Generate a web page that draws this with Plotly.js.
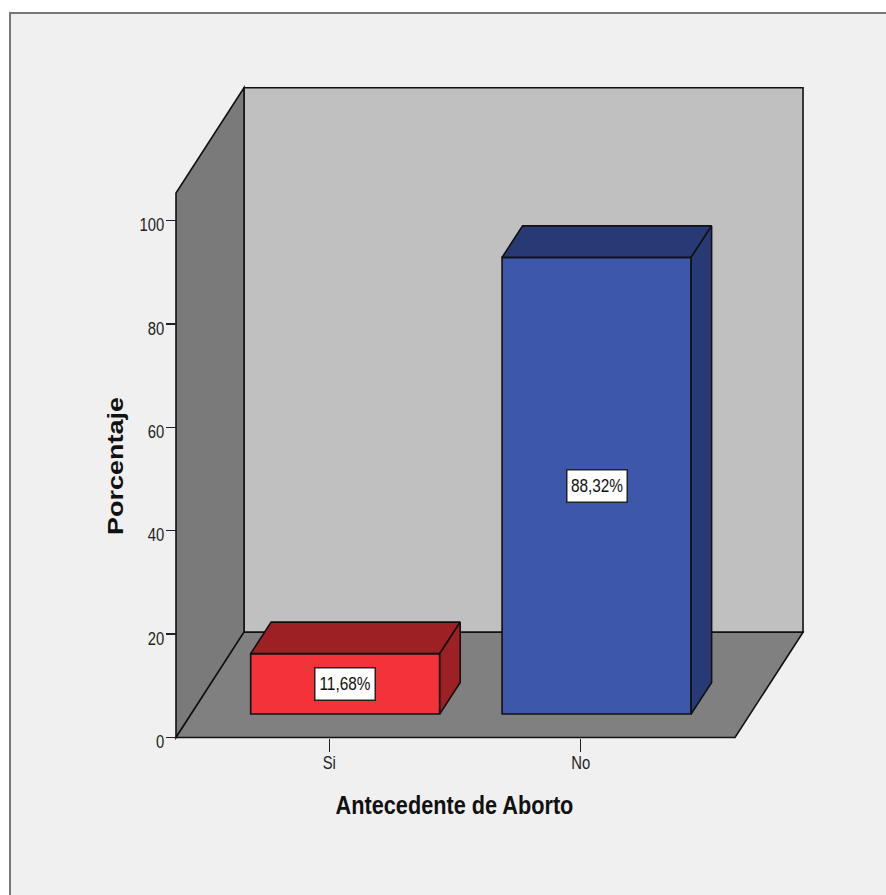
<!DOCTYPE html>
<html><head><meta charset="utf-8">
<script src="https://cdn.plot.ly/plotly-3.0.1.min.js"></script>
<style>
html,body{margin:0;padding:0;width:886px;height:895px;background:#fff;overflow:hidden}
#frame{position:absolute;left:9px;top:12px;width:877px;height:883px;box-sizing:border-box;background:#f0f0f0;border-left:2px solid #777;border-top:2px solid #777}
#chart{position:absolute;left:0;top:0;width:886px;height:895px}
</style></head><body>
<div id="frame"></div><div id="chart"></div>
<script>
// Data
var categories = ['Si', 'No'];
var percentages = [11.68, 88.32];
var barColors = ['#f33239', '#3d58aa'];
var barShadeColors = ['#9c2024', '#283a75'];
var yTicks = [0, 20, 40, 60, 80, 100];

// Pseudo-3D box, in axis units
var wallTop = 105.3, depthX = 0.2705, depthY = 20.37;
var floorLeft = -0.6098, floorRight = 1.6138;
var barBase = 4.55, barShift = 0.0632, barWidth = 0.752, barDepthX = 0.0815, barDepthY = 6.09;
var ink = '#111', inkW = 1.6;
var sans = '"Liberation Sans",Arial,sans-serif';

function poly(xs, ys){
  return 'M' + xs.map(function(x, i){ return x + ',' + ys[i]; }).join('L') + 'Z';
}
function wall(xs, ys, fill){
  return {type:'path', xref:'x', yref:'y', layer:'below', path:poly(xs, ys), fillcolor:fill, line:{color:ink, width:inkW}};
}
var xB = floorLeft + depthX, xR = floorRight + depthX;
var shapes = [
  wall([xB, xR, xR, xB], [depthY, depthY, wallTop + depthY, wallTop + depthY], '#c0c0c0'),
  wall([floorLeft, xB, xB, floorLeft], [0, depthY, wallTop + depthY, wallTop], '#7a7a7a'),
  wall([floorLeft, floorRight, xR, xB], [0, 0, depthY, depthY], '#808080')
];

var xFront = categories.map(function(c, i){ return i + barShift; });
var traces = [{
  type:'bar', x:xFront, y:percentages, base:percentages.map(function(){ return barBase; }),
  width:barWidth, marker:{color:barColors, line:{color:ink, width:inkW}}, hoverinfo:'skip', showlegend:false
}];
categories.forEach(function(c, i){
  var l = xFront[i] - barWidth/2, r = xFront[i] + barWidth/2, t = barBase + percentages[i];
  traces.push({type:'scatter', mode:'lines', fill:'toself', fillcolor:barShadeColors[i], cliponaxis:false,
    x:[l, r, r + barDepthX, l + barDepthX, l], y:[t, t, t + barDepthY, t + barDepthY, t],
    line:{color:ink, width:inkW}, hoverinfo:'skip', showlegend:false});
  traces.push({type:'scatter', mode:'lines', fill:'toself', fillcolor:barShadeColors[i], cliponaxis:false,
    x:[r, r + barDepthX, r + barDepthX, r, r], y:[barBase, barBase + barDepthY, t + barDepthY, t, barBase],
    line:{color:ink, width:inkW}, hoverinfo:'skip', showlegend:false});
});

var annotations = categories.map(function(c, i){
  return {x:xFront[i], y:barBase + percentages[i]/2, xref:'x', yref:'y', showarrow:false,
    text:percentages[i].toFixed(2).replace('.', ',') + '%',
    font:{family:sans, size:19, color:'#111'},
    bgcolor:'#fff', bordercolor:'#222', borderwidth:1.5, width:59, height:31, borderpad:0};
});

var tickFont = {family:sans, size:19, color:'#222'};
var gd = document.getElementById('chart');

// The reference's type is horizontally squeezed or stretched: scale each label about its own anchor.
function stretch(sel, sx, dx, dy){
  gd.querySelectorAll(sel).forEach(function(t){
    var x = parseFloat(t.getAttribute('x')) || 0, old = t.getAttribute('transform') || '';
    t.setAttribute('transform', 'translate(' + dx + ',' + dy + ') ' + old + ' translate(' + x + ',0) scale(' + sx + ',1) translate(' + (-x) + ',0)');
  });
}

Plotly.newPlot(gd, traces, {
  width:886, height:895, margin:{l:100, r:77, t:80, b:43},
  paper_bgcolor:'rgba(0,0,0,0)', plot_bgcolor:'rgba(0,0,0,0)',
  showlegend:false, hovermode:false, bargap:0, shapes:shapes, annotations:annotations,
  xaxis:{range:[-0.9121, 1.9081], anchor:'free', position:0.1483, showgrid:false, zeroline:false, showline:false,
    tickmode:'array', tickvals:categories.map(function(c, i){ return i; }), ticktext:categories,
    ticks:'outside', ticklen:13, tickwidth:1.5, tickcolor:'#222', tickfont:tickFont,
    title:{text:'Antecedente de Aborto', standoff:18, font:{family:sans, size:25, weight:700, color:'#111'}}},
  yaxis:{range:[-22.15, 127.18], anchor:'free', position:0.1072, showgrid:false, zeroline:false, showline:false,
    tickmode:'array', tickvals:yTicks, ticks:'outside', ticklen:10, tickwidth:1.5, tickcolor:'#222', tickfont:tickFont,
    title:{text:'Porcentaje', standoff:6, font:{family:sans, size:22, weight:700, color:'#111'}}}
}, {displayModeBar:false, staticPlot:true}).then(function(){
  stretch('.ytick text', 0.78, 2, 4);
  stretch('.xtick text', 0.78, 0, -5);
  gd.querySelectorAll('.annotation-text-g [clip-path], .annotation [clip-path]').forEach(function(g){ g.removeAttribute('clip-path'); });
  gd.querySelectorAll('.annotation-text').forEach(function(t){ t.style.clipPath = 'none'; });
  stretch('.annotation-text', 0.81, 0, 0);
  stretch('.xtitle', 0.868, 0, 1);
  stretch('.ytitle', 1.227, 7, 0);
});
</script></body></html>
